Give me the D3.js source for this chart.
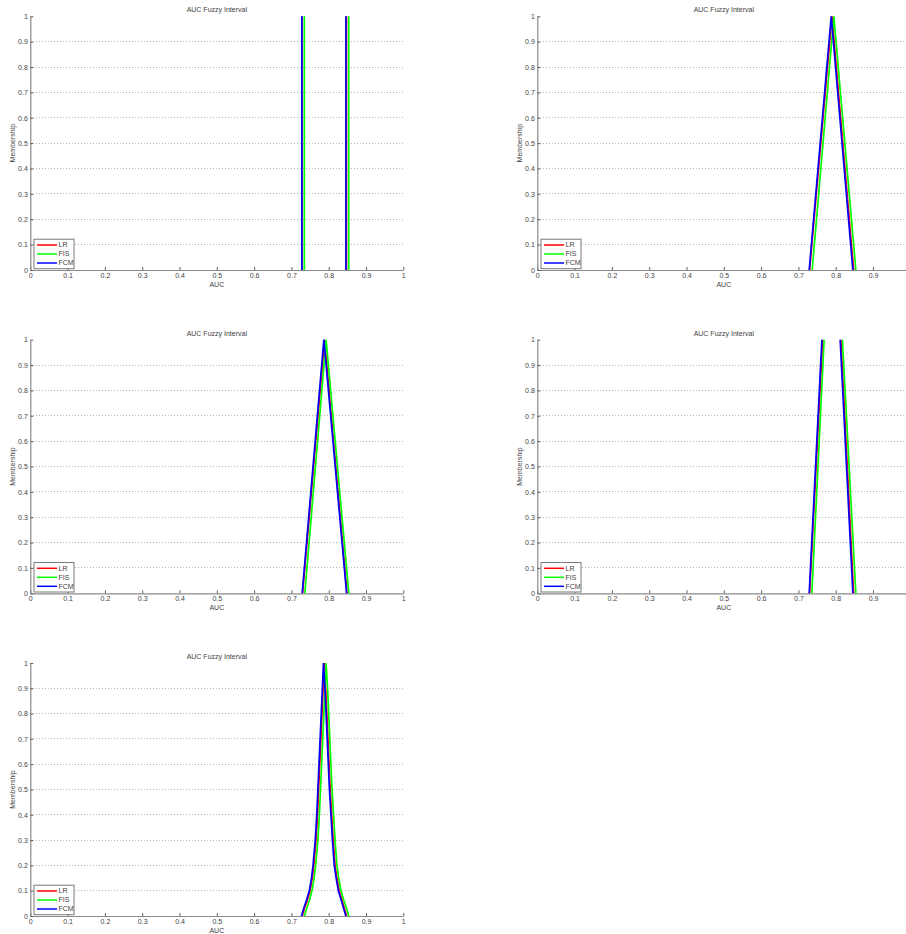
<!DOCTYPE html>
<html>
<head>
<meta charset="utf-8">
<script src="https://cdn.jsdelivr.net/npm/d3@7"></script>
<style>
  html, body { margin: 0; padding: 0; background: #fff; }
  svg { display: block; font-family: "Liberation Sans", Arial, Helvetica, sans-serif; }
</style>
</head>
<body>
<svg id="chart" width="906" height="934"></svg>
<script>
// ---------------- data ----------------
const seriesNames = ["LR", "FIS", "FCM"];
const xTicks = [0, 0.1, 0.2, 0.3, 0.4, 0.5, 0.6, 0.7, 0.8, 0.9, 1];
const xTickLabels = ["0", "0.1", "0.2", "0.3", "0.4", "0.5", "0.6", "0.7", "0.8", "0.9", "1"];
const yTicks = [0, 0.1, 0.2, 0.3, 0.4, 0.5, 0.6, 0.7, 0.8, 0.9, 1];
const yTickLabels = ["0", "0.1", "0.2", "0.3", "0.4", "0.5", "0.6", "0.7", "0.8", "0.9", "1"];
const titleText = "AUC Fuzzy Interval";
const xLabelText = "AUC";
const yLabelText = "Membership";

// Panel 1: crisp interval (vertical edges), null = gap
const p1LR  = [[0.728, 0], [0.728, 1], null, [0.8475, 1], [0.8475, 0]];
const p1FIS = [[0.7346, 0], [0.7346, 1], null, [0.8536, 1], [0.8536, 0]];
const p1FCM = [[0.728, 0], [0.728, 1], null, [0.8462, 1], [0.8462, 0]];

// Panel 2: triangular
const p2LR  = [[0.730, 0], [0.790, 1], [0.848, 0]];
const p2FIS = [[0.737, 0], [0.795, 1], [0.854, 0]];
const p2FCM = [[0.729, 0], [0.788, 1], [0.846, 0]];

// Panel 3: triangular
const p3LR  = [[0.730, 0], [0.789, 1], [0.849, 0]];
const p3FIS = [[0.736, 0], [0.793, 1], [0.854, 0]];
const p3FCM = [[0.729, 0], [0.787, 1], [0.848, 0]];

// Panel 4: trapezoidal (top edge not drawn)
const p4LR  = [[0.730, 0], [0.765, 1], null, [0.814, 1], [0.848, 0]];
const p4FIS = [[0.736, 0], [0.769, 1], null, [0.818, 1], [0.854, 0]];
const p4FCM = [[0.729, 0], [0.763, 1], null, [0.812, 1], [0.846, 0]];

// Panel 5: bell-shaped
const p5LR = [[0.729, 0], [0.735, 0.03], [0.742, 0.06], [0.750, 0.1], [0.756, 0.15], [0.760, 0.2],
  [0.766, 0.3], [0.770, 0.4], [0.773, 0.5], [0.776, 0.6], [0.779, 0.7], [0.782, 0.8], [0.785, 0.9],
  [0.788, 1], [0.792, 0.9], [0.795, 0.8], [0.798, 0.7], [0.801, 0.6], [0.804, 0.5], [0.808, 0.4],
  [0.812, 0.3], [0.817, 0.2], [0.822, 0.15], [0.828, 0.1], [0.836, 0.06], [0.842, 0.03], [0.848, 0]];
const p5FIS = [[0.735, 0], [0.741, 0.03], [0.748, 0.06], [0.755, 0.1], [0.761, 0.15], [0.765, 0.2],
  [0.771, 0.3], [0.775, 0.4], [0.778, 0.5], [0.781, 0.6], [0.784, 0.7], [0.787, 0.8], [0.790, 0.9],
  [0.793, 1], [0.797, 0.9], [0.800, 0.8], [0.803, 0.7], [0.806, 0.6], [0.809, 0.5], [0.813, 0.4],
  [0.817, 0.3], [0.822, 0.2], [0.827, 0.15], [0.833, 0.1], [0.841, 0.06], [0.848, 0.03], [0.854, 0]];
const p5FCM = [[0.727, 0], [0.733, 0.03], [0.740, 0.06], [0.748, 0.1], [0.754, 0.15], [0.758, 0.2],
  [0.764, 0.3], [0.768, 0.4], [0.771, 0.5], [0.774, 0.6], [0.777, 0.7], [0.780, 0.8], [0.783, 0.9],
  [0.786, 1], [0.790, 0.9], [0.793, 0.8], [0.796, 0.7], [0.799, 0.6], [0.802, 0.5], [0.806, 0.4],
  [0.810, 0.3], [0.815, 0.2], [0.820, 0.15], [0.826, 0.1], [0.834, 0.06], [0.840, 0.03], [0.846, 0]];

const panelSeries = [
  [p1LR, p1FIS, p1FCM],
  [p2LR, p2FIS, p2FCM],
  [p3LR, p3FIS, p3FCM],
  [p4LR, p4FIS, p4FCM],
  [p5LR, p5FIS, p5FCM]
];

// ---------------- layout / style ----------------
const W = 906, H = 934;
const colors = ["#ff0000", "#00ff00", "#0000ff"];
const panelBoxes = [
  { left: 30.3,  top: 16.3,  bottom: 270 },
  { left: 537.3, top: 16.3,  bottom: 270 },
  { left: 30.3,  top: 339.7, bottom: 593.3 },
  { left: 537.3, top: 339.7, bottom: 593.3 },
  { left: 30.3,  top: 663,   bottom: 916 }
];
const plotWidth = 373;
const textColor = "#3f3f3f";
const axisColor = "#8a8a8a";
const fs = 7;

const svg = d3.select("#chart");
svg.append("rect").attr("width", W).attr("height", H).attr("fill", "#fff");

panelBoxes.forEach((box, pi) => {
  const x = d3.scaleLinear().domain([0, 1]).range([box.left, box.left + plotWidth]);
  const y = d3.scaleLinear().domain([0, 1]).range([box.bottom, box.top]);
  const g = svg.append("g");

  // grid
  g.selectAll(".grid").data(yTicks.filter(v => v > 0 && v < 1)).enter()
    .append("line")
    .attr("x1", x(0)).attr("x2", x(1))
    .attr("y1", d => y(d)).attr("y2", d => y(d))
    .attr("stroke", "#b4b4b4").attr("stroke-width", 1)
    .attr("stroke-dasharray", "1,2")
    .attr("shape-rendering", "crispEdges");

  // axes
  const xAxis = d3.axisBottom(x).tickValues(xTicks)
    .tickFormat((d, i) => xTickLabels[i]).tickSizeInner(-3).tickSizeOuter(0).tickPadding(3);
  const yAxis = d3.axisLeft(y).tickValues(yTicks)
    .tickFormat((d, i) => yTickLabels[i]).tickSizeInner(-3).tickSizeOuter(0).tickPadding(2.5);

  const gx = g.append("g").attr("transform", `translate(0,${box.bottom})`).call(xAxis);
  const gy = g.append("g").attr("transform", `translate(${box.left},0)`).call(yAxis);
  [gx, gy].forEach(a => {
    a.select(".domain").attr("stroke", axisColor).attr("stroke-width", 1.2);
    a.selectAll(".tick line").attr("stroke", "#606060").attr("stroke-width", 1);
    a.selectAll(".tick text").attr("fill", textColor).attr("font-size", fs)
      .attr("font-family", "Liberation Sans, Arial, sans-serif");
  });
  // labels falling past the picture's right edge are not shown (as in the reference)
  gx.selectAll(".tick text").filter(d => x(d) > W - 4).remove();

  // series lines
  const line = d3.line().defined(d => d !== null).x(d => x(d[0])).y(d => y(d[1]));
  panelSeries[pi].forEach((s, si) => {
    g.append("path").datum(s)
      .attr("d", line)
      .attr("fill", "none")
      .attr("stroke", colors[si])
      .attr("stroke-width", 1.7)
      .attr("stroke-linejoin", "miter");
  });

  // title
  g.append("text").attr("x", (x(0) + x(1)) / 2).attr("y", box.top - 4)
    .attr("text-anchor", "middle").attr("font-size", fs).attr("fill", textColor)
    .text(titleText);
  // x label
  g.append("text").attr("x", (x(0) + x(1)) / 2).attr("y", box.bottom + 16.5)
    .attr("text-anchor", "middle").attr("font-size", fs).attr("fill", textColor)
    .text(xLabelText);
  // y label
  const ly = (box.top + box.bottom) / 2;
  const lx = box.left - 15;
  g.append("text").attr("transform", `translate(${lx},${ly}) rotate(-90)`)
    .attr("text-anchor", "middle").attr("font-size", fs).attr("fill", textColor)
    .text(yLabelText);

  // legend
  const lgX = box.left + 3.7, lgH = 29.5, lgW = 40;
  const lgY = box.bottom - 1.3 - lgH;
  const lg = g.append("g").attr("transform", `translate(${lgX},${lgY})`);
  lg.append("rect").attr("width", lgW).attr("height", lgH)
    .attr("fill", "#fff").attr("stroke", "#7a7a7a").attr("stroke-width", 1);
  seriesNames.forEach((name, i) => {
    const ry = 5.8 + i * 9;
    lg.append("line").attr("x1", 3).attr("x2", 23).attr("y1", ry).attr("y2", ry)
      .attr("stroke", colors[i]).attr("stroke-width", 1.5);
    lg.append("text").attr("x", 24.5).attr("y", ry).attr("dy", "0.35em")
      .attr("font-size", fs).attr("fill", textColor).text(name);
  });
});
</script>
</body>
</html>
